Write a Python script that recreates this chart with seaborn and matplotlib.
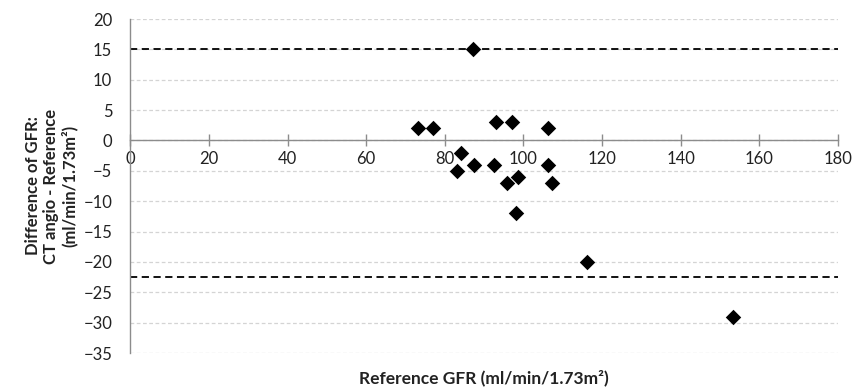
import numpy as np
import pandas as pd
import matplotlib
matplotlib.use('Agg')
import matplotlib.pyplot as plt
import seaborn as sns

# data
reference_gfr = [87.2, 73.3, 77.0, 93.0, 97.2, 106.3, 84.1, 83.2, 87.3, 92.4,
                 106.3, 95.8, 98.5, 107.2, 98.1, 116.2, 153.4]
gfr_difference = [15, 2, 2, 3, 3, 2, -2, -5, -4, -4,
                  -4, -7, -6, -7, -12, -20, -29]
upper_limit = 15
lower_limit = -22.4

df = pd.DataFrame({'ref': reference_gfr, 'diff': gfr_difference})

sns.set_style('white')
plt.rcParams['font.family'] = ['Lato', 'DejaVu Sans']

fig = plt.figure(figsize=(8.63, 3.89), dpi=100)
ax = fig.add_axes([0.151, 0.0925, 0.82, 0.8585])

# gridlines
ax.set_axisbelow(True)
ax.yaxis.grid(True, color='#d4d4d4', linestyle=(0, (3, 2)), linewidth=0.9)
ax.xaxis.grid(False)

# limits of agreement
ax.axhline(upper_limit, color='black', linestyle=(0, (4, 2.5)), linewidth=1.3, zorder=2)
ax.axhline(lower_limit, color='black', linestyle=(0, (4, 2.5)), linewidth=1.3, zorder=2)

sns.scatterplot(data=df, x='ref', y='diff', marker='D', s=62, color='black',
                linewidth=0, ax=ax, zorder=3)

ax.set_xlim(0, 180)
ax.set_ylim(-35, 20)
ax.set_xticks(np.arange(0, 181, 20))
ax.set_yticks(np.arange(-35, 21, 5))

# axes styling
for side in ['top', 'right']:
    ax.spines[side].set_visible(False)
ax.spines['bottom'].set_position(('data', 0))
ax.spines['bottom'].set_color('#8c8c8c')
ax.spines['left'].set_color('#8c8c8c')
ax.spines['bottom'].set_linewidth(1.0)
ax.spines['left'].set_linewidth(1.0)

ax.tick_params(axis='x', direction='inout', length=9, width=1, color='#8c8c8c',
               pad=3, labelsize=12, labelcolor='#222222', bottom=True)
ax.tick_params(axis='y', length=0, pad=13, labelsize=12, labelcolor='#222222')

ax.set_xlabel('Reference GFR (ml/min/1.73m²)', fontsize=12.5, fontweight='bold',
              color='#222222')
ax.xaxis.set_label_coords(0.5, -0.05)
ax.set_ylabel('Difference of GFR:\nCT angio - Reference\n(ml/min/1.73m²)',
              fontsize=12, fontweight='bold', color='#222222',
              multialignment='center', linespacing=1.15)
ax.yaxis.set_label_coords(-0.074, 0.5)

plt.savefig('out.png', dpi=100)
